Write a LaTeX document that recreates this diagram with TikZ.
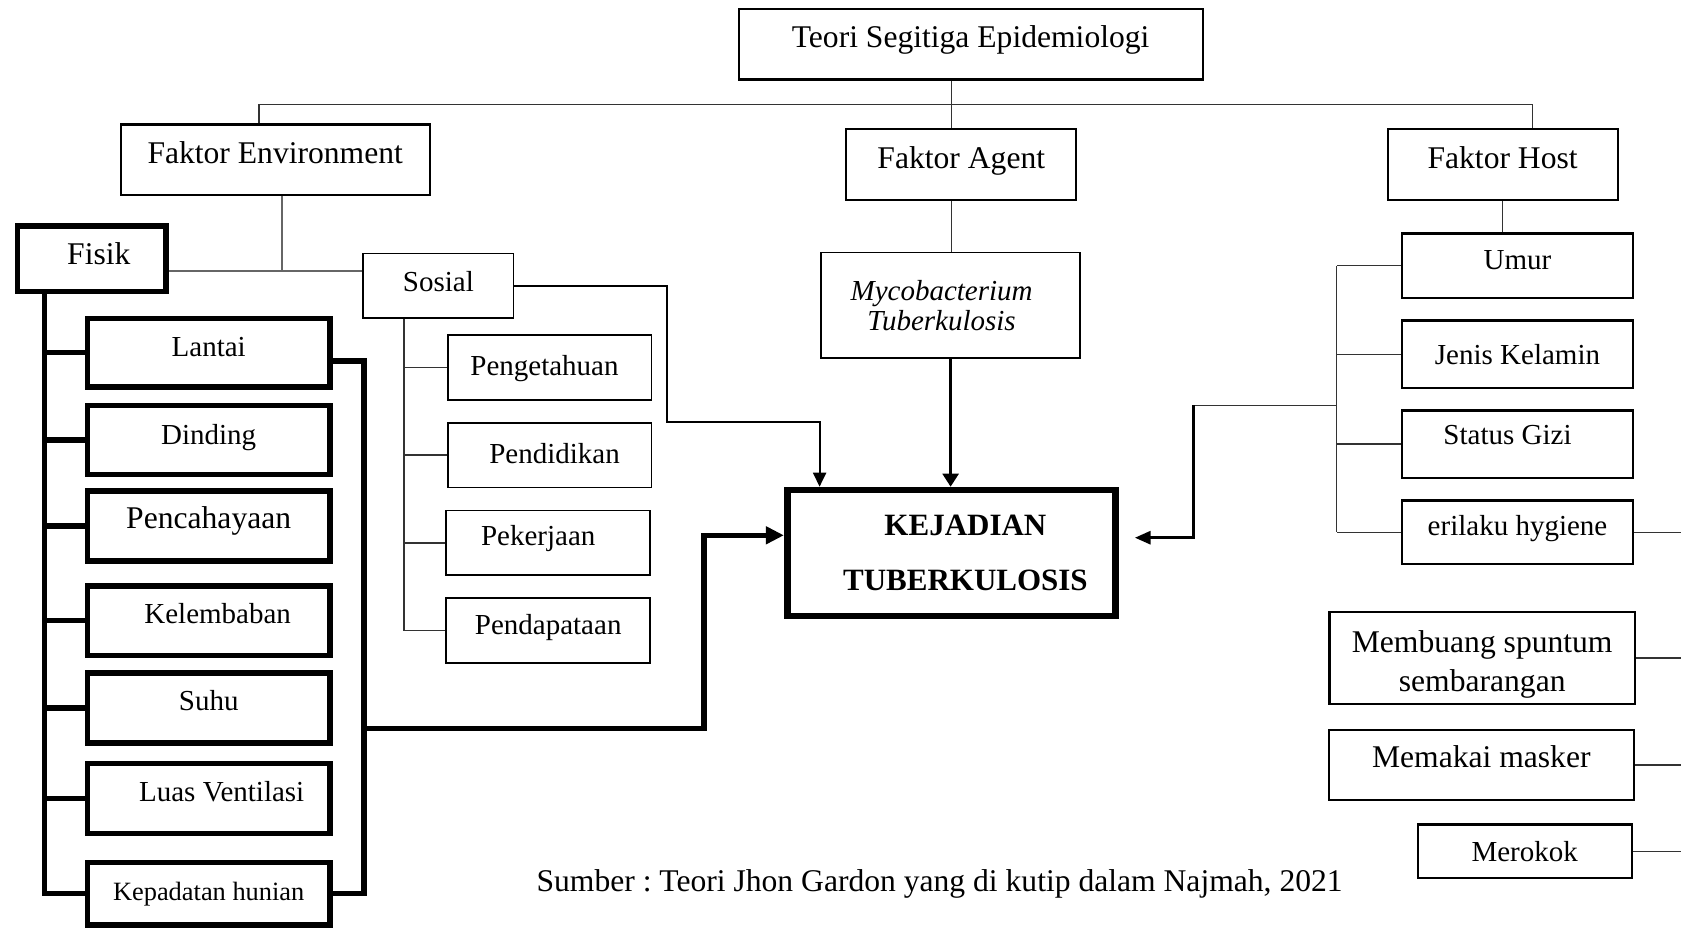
\documentclass[tikz,border=0pt]{standalone}
\usepackage{fontspec}
\setmainfont{Liberation Serif}
\usetikzlibrary{arrows.meta}

\newcommand{\fnbig}{\fontsize{15.8pt}{18pt}\selectfont}
\newcommand{\fnsml}{\fontsize{14.5pt}{15pt}\selectfont}
\frenchspacing

\begin{document}
\begin{tikzpicture}[x=0.5pt,y=-0.5pt,>={Triangle[length=7pt,width=6.5pt]},
  box/.style={draw,rectangle,inner sep=0pt,line width=1.1pt,font=\fnsml,
    text height=9.8pt,text depth=#1},
  box/.default=6pt,
  thinbox/.style={box=#1,line width=0.9pt},
  thinbox/.default=0pt,
  heavybox/.style={box=#1,line width=2.8pt},
  heavybox/.default=6pt,
  frame/.style={draw,rectangle,inner sep=0pt,align=center},
  line/.style={line width=0.7pt,black!80},
  greyline/.style={line width=0.8pt,black!60},
  heavyline/.style={line width=2.75pt},
  midline/.style={line width=1.1pt}]
  \useasboundingbox (0,0) rectangle (1681,931);

  % top of the tree
  \node[box=7pt,font=\fnbig,minimum width=232pt,minimum height=35.1pt] (1) at (970.6,44.5) {Teori Segitiga Epidemiologi};
  \node[box,font=\fnbig,minimum width=154.5pt,minimum height=35.2pt] (2) at (275.2,159.7) {Faktor Environment};
  \node[box,font=\fnbig,minimum width=115pt,minimum height=35.5pt] (3) at (961.3,164.4) {Faktor Agent};
  \node[box,font=\fnbig,minimum width=115pt,minimum height=35.5pt] (4) at (1502.6,164.4) {Faktor Host};

  % environment
  \node[heavybox=4pt,font=\fnbig,minimum width=74.4pt,minimum height=32.7pt] (5) at (91.8,258.7) {\hspace*{7pt}Fisik};
  \node[thinbox=4pt,minimum width=75.1pt,minimum height=32.3pt] (6) at (438.4,285.8) {Sosial};
  \node[heavybox=6pt,minimum width=121.1pt,minimum height=34.4pt] (9) at (208.7,352.7) {Lantai};
  \node[heavybox=5pt,minimum width=121.1pt,minimum height=34.6pt] (10) at (208.7,440) {Dinding};
  \node[heavybox=7pt,font=\fnbig,minimum width=121.1pt,minimum height=34.9pt] (11) at (208.7,526) {Pencahayaan};
  \node[heavybox=7pt,minimum width=121.1pt,minimum height=34.9pt] (12) at (208.7,620.7) {\hspace*{9pt}Kelembaban};
  \node[heavybox=7.5pt,minimum width=121.1pt,minimum height=35pt] (13) at (208.7,708) {Suhu};
  \node[heavybox=6.5pt,minimum width=121.1pt,minimum height=35pt] (14) at (208.7,798.6) {\hspace*{13pt}Luas Ventilasi};
  \node[heavybox=3pt,font=\fontsize{13.2pt}{15pt}\selectfont,minimum width=121.1pt,minimum height=31.4pt] (15) at (208.7,893.7) {Kepadatan hunian};
  \node[thinbox=2pt,minimum width=101.9pt,minimum height=32.4pt] (16) at (549.5,367.4) {Pengetahuan\hspace*{5pt}};
  \node[thinbox=1pt,minimum width=101.9pt,minimum height=32.4pt] (17) at (549.5,455.1) {\hspace*{5pt}Pendidikan};
  \node[thinbox=7pt,minimum width=101.9pt,minimum height=32.4pt] (18) at (548.2,542.9) {Pekerjaan\hspace*{10pt}};
  \node[thinbox=6pt,minimum width=101.9pt,minimum height=32.4pt] (19) at (548.2,630.4) {Pendapataan};

  % agent and outcome
  \node[frame,line width=0.9pt,font=\fnsml\itshape,minimum width=129.6pt,minimum height=52.7pt] (7) at (950.6,305.2) {Mycobacterium\hspace*{9pt}\\Tuberkulosis\hspace*{9pt}};
  \node[frame,line width=3.3pt,font=\fontsize{15.5pt}{27.5pt}\selectfont\bfseries,minimum width=164.2pt,minimum height=63pt] (8) at (951.4,553) {\hspace*{14pt}KEJADIAN\\\hspace*{14pt}TUBERKULOSIS};

  % host
  \node[box,minimum width=115.7pt,minimum height=32.2pt] (20) at (1517.5,265.7) {Umur};
  \node[box=0pt,minimum width=115.7pt,minimum height=33.9pt] (21) at (1517.5,354.3) {Jenis Kelamin};
  \node[box=9.5pt,minimum width=115.7pt,minimum height=33.6pt] (22) at (1517.5,444) {Status Gizi\hspace*{10pt}};
  \node[box=7pt,minimum width=115.7pt,minimum height=31.9pt] (23) at (1517.5,532.3) {erilaku hygiene};
  \node[frame,line width=1.1pt,font=\fontsize{15.8pt}{19.5pt}\selectfont,minimum width=152.8pt,minimum height=46pt] (24) at (1482.2,657.9) {\rule{0pt}{17.5pt}Membuang spuntum\\sembarangan};
  \node[box=7pt,font=\fnbig,minimum width=152.6pt,minimum height=34.8pt] (25) at (1481.3,764.9) {Memakai masker};
  \node[box=0pt,minimum width=106.9pt,minimum height=26.9pt] (26) at (1524.7,851.3) {Merokok};

  \node[font=\fnbig,anchor=base] (27) at (939.6,891.5) {Sumber : Teori Jhon Gardon yang di kutip dalam Najmah, 2021};

  % tree lines
  \coordinate (t) at (951.6,104.3);
  \coordinate (tl) at (259,104.3);
  \coordinate (tr) at (1532.3,104.3);
  \draw[line] (1.south -| t) -- (3.north -| t);
  \draw[line] (2.north -| tl) -- (tl) -- (tr) -- (4.north -| tr);
  \draw[line] (3.south -| t) -- (7.north -| t);
  \draw[line] (4.south) -- (4.south |- 20.north);

  \coordinate (e) at (281.7,270.7);
  \draw[greyline] (2.south -| e) -- (e);
  \draw[greyline] (5.east |- e) -- (6.west |- e);

  % fisik bus and bracket
  \coordinate (b) at (44.6,0);
  \foreach \n in {9,...,15}
    \draw[heavyline] (5.south -| b) |- (\n.west);
  \coordinate (r1) at (363.8,361.2);
  \coordinate (r) at (363.8,728.6);
  \coordinate (k) at (704,535.3);
  \draw[heavyline] (9.east |- r1) -- (r1) |- (15.east);
  \draw[heavyline,-{Triangle[length=9pt,width=8.5pt]}] (r) -| (k) -- (8.west |- k);

  % sosial
  \coordinate (s) at (404,0);
  \foreach \n in {16,...,19}
    \draw[line] (6.south -| s) |- (\n.west);
  \coordinate (s1) at (667,422);
  \coordinate (s2) at (819.6,422);
  \draw[midline,->] (6.east) -| (s1) -- (s2) -- (8.north -| s2);

  \draw[line width=1.25pt,-{Triangle[length=6.5pt,width=8pt]}] (7.south) -- (7.south |- 8.north);

  % host bracket
  \coordinate (h) at (1336.7,405.3);
  \coordinate (ha) at (1193.75,537.7);
  \foreach \n in {20,...,23}
    \draw[line] (\n.west) -- (\n.west -| h);
  \draw[line] (20.west -| h) -- (23.west -| h);
  \draw[line] (h) -- (h -| ha);
  \draw[line width=1.35pt,-{Triangle[length=7.8pt,width=6.5pt]},shorten >=8pt] (h -| ha) -- (ha) -- (8.east |- ha);

  \coordinate (edge) at (1681,0);
  \foreach \n in {23,...,26}
    \draw[line] (\n.east) -- (\n.east -| edge);
\end{tikzpicture}
\end{document}
